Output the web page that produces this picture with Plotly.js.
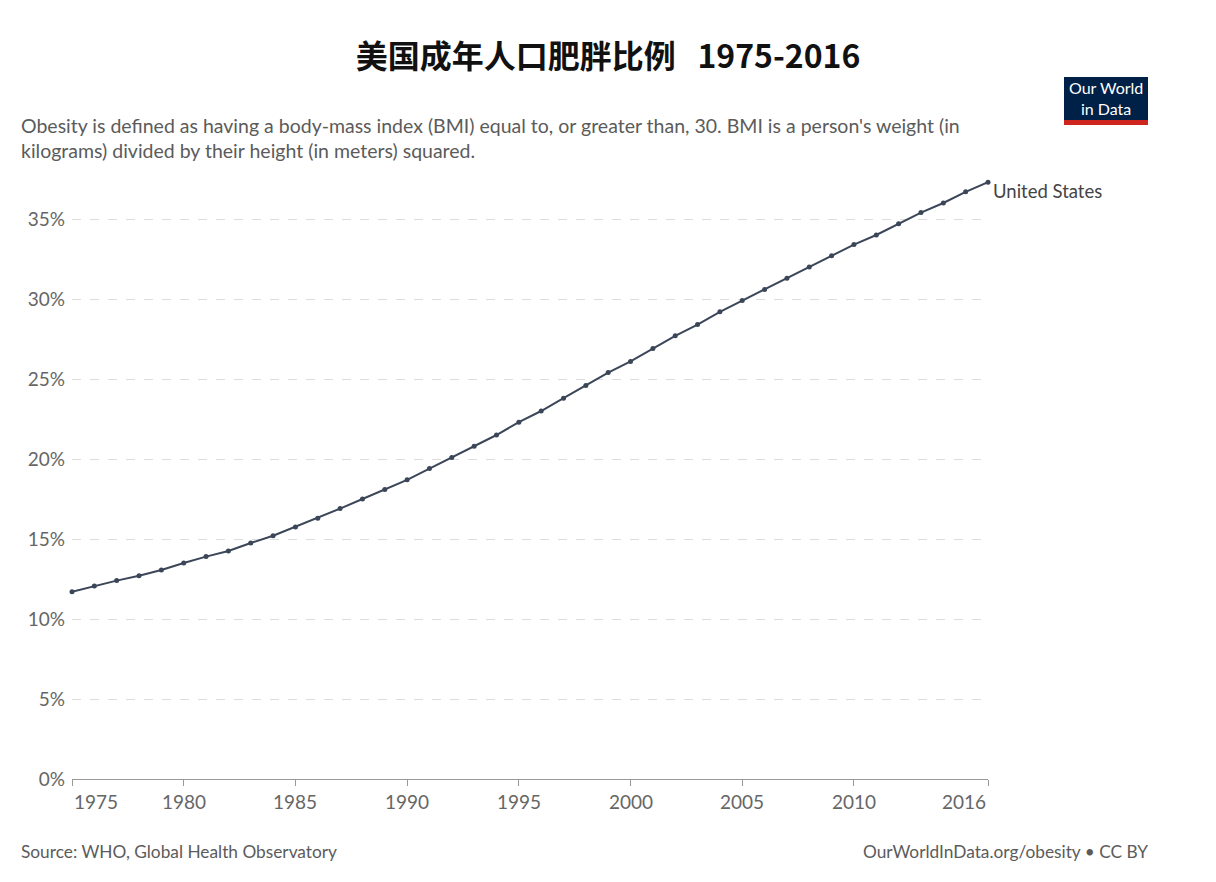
<!DOCTYPE html>
<html><head><meta charset="utf-8">
<script src="https://cdn.plot.ly/plotly-3.0.1.min.js"></script>
<style>body{margin:0;padding:0;background:#fff}#chart{width:1216px;height:882px}</style>
</head><body><div id="chart"></div>
<script>
const years = [1975,1976,1977,1978,1979,1980,1981,1982,1983,1984,1985,1986,1987,1988,1989,1990,1991,1992,1993,1994,1995,1996,1997,1998,1999,2000,2001,2002,2003,2004,2005,2006,2007,2008,2009,2010,2011,2012,2013,2014,2015,2016];
const obesity = [11.7,12.06,12.4,12.7,13.06,13.5,13.9,14.25,14.75,15.2,15.75,16.3,16.9,17.5,18.1,18.7,19.4,20.1,20.8,21.5,22.3,23.0,23.8,24.6,25.4,26.1,26.9,27.7,28.4,29.2,29.9,30.6,31.3,32.0,32.7,33.4,34.0,34.7,35.4,36.0,36.7,37.3];
const xTickVals = [1975,1980,1985,1990,1995,2000,2005,2010,2016];
const xTickText = ['1975','1980','1985','1990','1995','2000','2005','2010','2016'];
const yTickVals = [0,5,10,15,20,25,30,35];
const yTickText = ['0%','5%','10%','15%','20%','25%','30%','35%'];
const seriesName = 'United States';

const grey = '#666666';
const font = 'Lato, "Open Sans", sans-serif';

function px(x){return (x-72)/916;}
function py(y){return (779-y)/600;}

const annotations = [];
xTickVals.forEach((v,i)=>{
  let anchor = 'center';
  if (i===0) anchor='left';
  if (i===xTickVals.length-1) anchor='right';
  annotations.push({x:v, xref:'x', y:0, yref:'paper', yshift:-22, text:xTickText[i], showarrow:false,
    xanchor:anchor, yanchor:'middle', font:{family:font,size:19,color:grey}});
});
annotations.push({x:years[years.length-1], y:obesity[obesity.length-1], xref:'x', yref:'y', text:seriesName,
  showarrow:false, xanchor:'left', yanchor:'middle', xshift:3, yshift:-9, font:{family:font,size:18.5,color:'#444'}});
annotations.push(
  {x:px(1106), y:py(98), xref:'paper', yref:'paper', text:'Our World<br>in Data', showarrow:false, xanchor:'center', yanchor:'middle',
   font:{family:font,size:16,color:'#fff'}, align:'center'},
  {x:px(19), y:py(138), xref:'paper', yref:'paper', text:'Obesity is defined as having a body-mass index (BMI) equal to, or greater than, 30. BMI is a person\'s weight (in<br>kilograms) divided by their height (in meters) squared.',
   showarrow:false, xanchor:'left', yanchor:'middle', align:'left', font:{family:font,size:19.5,color:'#5b5b5b'}},
  {x:px(19), y:py(851), xref:'paper', yref:'paper', text:'Source: WHO, Global Health Observatory', showarrow:false, xanchor:'left', yanchor:'middle',
   font:{family:font,size:17.3,color:'#5b5b5b'}},
  {x:px(1150), y:py(851), xref:'paper', yref:'paper', text:'OurWorldInData.org/obesity • CC BY', showarrow:false, xanchor:'right', yanchor:'middle',
   font:{family:font,size:17.3,color:'#5b5b5b'}}
);

const layout = {
  width:1216, height:882,
  margin:{l:72, r:228, t:179, b:103},
  paper_bgcolor:'#fff', plot_bgcolor:'#fff',
  showlegend:false,
  title:{text:'<b>美国成年人口肥胖比例   1975-2016</b>', x:0.5, xanchor:'center', xref:'container', yref:'container', y:1-57/882, yanchor:'middle',
    font:{family:'"Noto Sans CJK SC", sans-serif', size:32, color:'#111'}},
  xaxis:{range:[1975,2016], tickvals:xTickVals, showticklabels:false, showgrid:false, zeroline:false,
    showline:true, linecolor:'#999', linewidth:1, ticks:'outside', ticklen:6, tickcolor:'#999', fixedrange:true},
  yaxis:{range:[0,37.5], tickvals:yTickVals, ticktext:yTickText, showgrid:true, gridcolor:'#dddddd', griddash:'dash',
    gridwidth:1, zeroline:false, showline:false, ticks:'', ticklabelstandoff:6,
    tickfont:{family:font,size:19,color:grey}},
  annotations:annotations,
  shapes:[
    {type:'rect', xref:'paper', yref:'paper', x0:px(1064), x1:px(1148), y0:py(77), y1:py(120), fillcolor:'#002147', line:{width:0}},
    {type:'rect', xref:'paper', yref:'paper', x0:px(1064), x1:px(1148), y0:py(120), y1:py(125), fillcolor:'#ce261e', line:{width:0}}
  ]
};

const trace = {x:years, y:obesity, type:'scatter', mode:'lines+markers', name:seriesName,
  line:{color:'#3b4658', width:2}, marker:{color:'#3b4658', size:5}, cliponaxis:false};

Plotly.newPlot('chart',[trace],layout,{displayModeBar:false, staticPlot:true});
</script></body></html>
